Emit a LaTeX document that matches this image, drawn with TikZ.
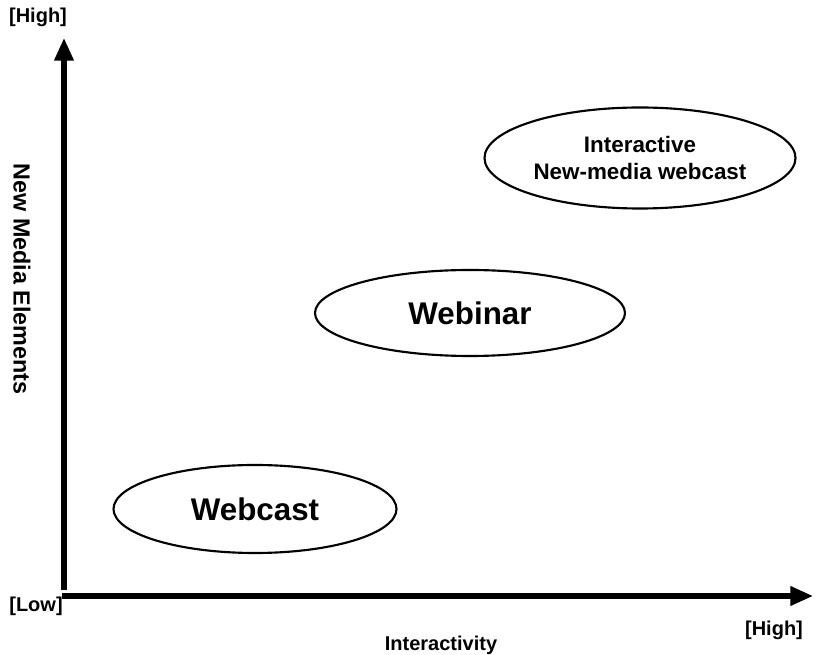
\documentclass[tikz,border=0pt]{standalone}
\usepackage{fontspec}
\setmainfont{Liberation Sans}
\usetikzlibrary{shapes.geometric,arrows.meta}
\begin{document}
\begin{tikzpicture}[x=0.75pt,y=-0.75pt,
  oval/.style={draw=black,ellipse,line width=1.6pt,inner sep=0pt,font=\bfseries,align=center},
  axis/.style={line width=3.8pt,-{Triangle[length=17pt,width=14pt]}},
  lbl/.style={font=\bfseries\fontsize{15}{18}\selectfont,inner sep=0pt}]
\useasboundingbox (0,0) rectangle (815,655);
\coordinate (ytop) at (64,38);
\coordinate (ystart) at (64,590);
\coordinate (xend) at (813,596);
\coordinate (ostart) at (61.5,596);
\draw[axis] (ystart) -- (ytop);
\draw[axis] (ostart) -- (xend);
\node[lbl] (hightop) at (38,17) {[High]};
\node[lbl] (low) at (36,606) {[Low]};
\node[lbl] (highr) at (774,630) {[High]};
\node[lbl] (xl) at (441,645) {Interactivity};
\node[lbl,rotate=-90,font=\bfseries\fontsize{17.5}{20}\selectfont] (yl) at (22,279) {New Media Elements};
\node[oval,minimum width=283*0.75pt,minimum height=88*0.75pt,font=\bfseries\fontsize{23.5}{26}\selectfont] (webcast) at (255,509) {Webcast};
\node[oval,minimum width=310*0.75pt,minimum height=86*0.75pt,font=\bfseries\fontsize{23.5}{26}\selectfont] (webinar) at (470,313) {Webinar};
\node[oval,minimum width=311*0.75pt,minimum height=101*0.75pt,font=\bfseries\fontsize{16.8}{20}\selectfont] (imw) at (640,158) {Interactive\\New-media webcast};
\end{tikzpicture}
\end{document}
